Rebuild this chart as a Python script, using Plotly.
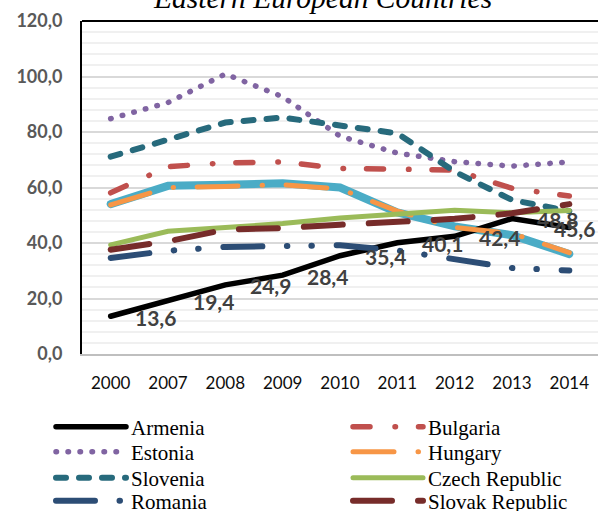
import plotly.graph_objects as go

years = ["2000", "2007", "2008", "2009", "2010", "2011", "2012", "2013", "2014"]

armenia = [13.6, 19.4, 24.9, 28.4, 35.4, 40.1, 42.4, 48.8, 45.6]
bulgaria = [58.1, 67.5, 68.9, 69.2, 66.9, 66.5, 66.3, 59.7, 56.9]
estonia = [84.8, 90.6, 100.9, 92.7, 78.5, 72.4, 69.3, 67.7, 69.2]
hungary = [53.7, 60.0, 60.4, 61.0, 59.5, 51.5, 45.6, 43.5, 36.5]
slovenia = [71.1, 77.1, 83.4, 85.2, 82.4, 79.5, 65.7, 55.5, 51.5]
czech = [39.3, 44.2, 45.6, 47.0, 49.0, 50.2, 51.8, 50.9, 51.7]
romania = [34.6, 37.2, 38.6, 38.8, 39.2, 37.3, 34.1, 31.0, 30.1]
slovak = [37.6, 40.6, 44.8, 45.4, 46.6, 47.5, 48.7, 50.7, 54.0]
other = [54.0, 60.6, 61.0, 61.5, 60.0, 51.0, 46.0, 42.8, 36.0]  # legend entry cut off in the reference

series = [
    # name, values, color, width, dash
    ("Armenia", armenia, "#000000", 5.5, "solid"),
    ("Bulgaria", bulgaria, "#C0504D", 5.5, "17px,25px,0.5px,23px"),
    ("Estonia", estonia, "#8064A2", 5.5, "0.5px,11.5px"),
    ("Hungary", hungary, "#F79646", 5, "41px,24px,0.5px,23.5px"),
    ("Slovenia", slovenia, "#276A7C", 6, "10px,13px"),
    ("Czech Republic", czech, "#9BBB59", 5, "solid"),
    ("Romania", romania, "#2C4D75", 6, "39px,24.5px,0.5px,24px,0.5px,24.8px"),
    ("Slovak Republic", slovak, "#772C2A", 6, "39px,26px"),
]

fig = go.Figure()

fig.add_trace(go.Scatter(
    x=years, y=other, mode="lines", name="Other", showlegend=False,
    line=dict(color="#4BACC6", width=8), hoverinfo="skip"))

legend_cols = [51, 348]             # left edge of each legend column
legend_rows = [427, 452, 478, 501]  # vertical centre of each legend row
legend_layout = {}
for k, (name, vals, color, width, dash) in enumerate(series):
    lname = "legend" if k == 0 else f"legend{k + 1}"
    fig.add_trace(go.Scatter(
        x=years, y=vals, mode="lines", name=name,
        line=dict(color=color, width=width, dash=dash), legend=lname))
    legend_layout[lname] = dict(
        orientation="h", xref="container", yref="container",
        xanchor="left", yanchor="middle",
        x=legend_cols[k % 2] / 598, y=1 - legend_rows[k // 2] / 511,
        bgcolor="rgba(0,0,0,0)", itemwidth=70,
        font=dict(family="Liberation Serif", size=21, color="#000000"),
        itemclick=False, itemdoubleclick=False)

# data labels for Armenia
for i, v in enumerate(armenia):
    fig.add_annotation(
        x=i, y=v, xref="x", yref="y",
        text=f"{v:.1f}".replace(".", ","),
        showarrow=False, xanchor="center", yanchor="middle",
        xshift=45 if i < len(years) - 1 else 5, yshift=-1,
        font=dict(family="Lato", size=21, color="#404040", weight="bold"))

# title (partially cut off at the top in the reference)
fig.add_annotation(
    x=(322 - 82) / 516, y=1.015, xref="paper", yref="paper",
    text="<i>Eastern European Countries</i>", showarrow=False,
    xanchor="center", yanchor="bottom",
    font=dict(family="Liberation Serif", size=29.5, color="#000000"))

# top border of plot area
fig.add_shape(type="line", xref="paper", yref="paper", x0=0, x1=1, y0=1, y1=1,
              line=dict(color="#000000", width=2))

fig.update_layout(
    template="none",
    width=598, height=511,
    margin=dict(l=82, r=0, t=21, b=157, autoexpand=False),
    paper_bgcolor="white", plot_bgcolor="white",
    separators=",.",
    showlegend=True,
    **legend_layout,
    xaxis=dict(
        type="category", range=[-0.5, 8.5], automargin=False,
        showgrid=False, showline=True, linecolor="#BFBFBF", linewidth=2,
        ticks="", ticklabelstandoff=13,
        tickfont=dict(family="Lato", size=17, color="#0D0D0D"), fixedrange=True),
    yaxis=dict(
        range=[0, 120], dtick=20, tickformat=".1f", automargin=False,
        showline=True, linecolor="#000000",
        linewidth=2, showgrid=True, gridcolor="#D9D9D9", gridwidth=2, zeroline=False,
        ticks="", ticklabelstandoff=14,
        tickfont=dict(family="Lato", size=18, color="#595959", weight="bold"),
        minor=dict(dtick=4, showgrid=True, gridcolor="#F0F0F0", gridwidth=2),
        fixedrange=True),
)

post = ("document.body.style.margin='0';"
        "document.querySelectorAll('.scatterlayer .js-line, g.legendlines path, .legend path.js-line')"
        ".forEach(function(p){p.style.strokeLinecap='round';});")
fig.write_html("out.html", post_script=post, config={"displayModeBar": False})
